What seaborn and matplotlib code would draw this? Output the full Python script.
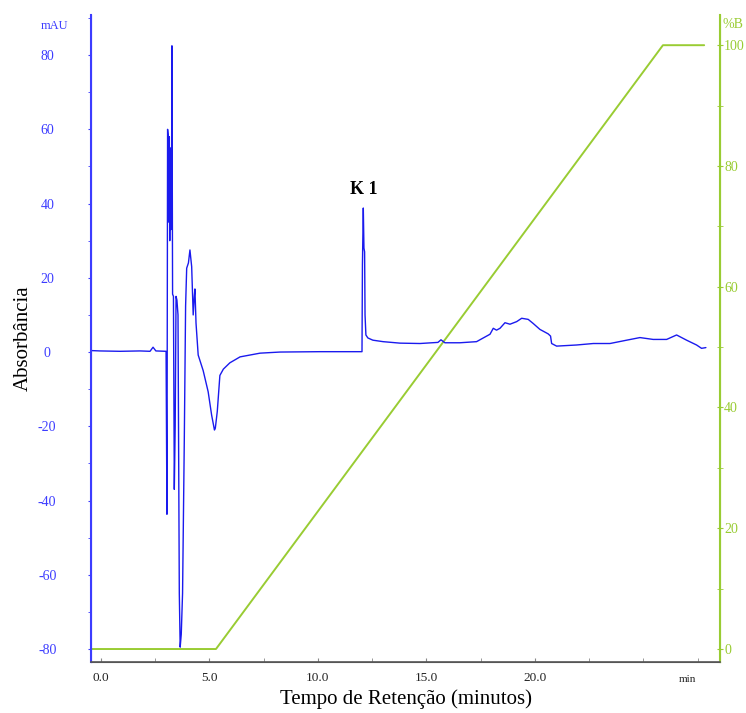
import numpy as np
import pandas as pd
import matplotlib
matplotlib.use("Agg")
import matplotlib.pyplot as plt
import seaborn as sns
from matplotlib.ticker import MultipleLocator

# ---- data ----
time_min = [-0.46, -0.05, 0.88, 1.80, 2.26, 2.40, 2.53, 3.00, 3.04, 3.07, 3.10, 3.13, 3.15, 3.17,
            3.19, 3.22, 3.25, 3.27, 3.30, 3.34, 3.38, 3.42, 3.46, 3.50, 3.55, 3.61, 3.65, 3.70,
            3.76, 3.84, 3.90, 3.95, 4.03, 4.10, 4.18, 4.25, 4.30, 4.33, 4.38, 4.48, 4.71, 4.94,
            5.10, 5.23, 5.27, 5.36, 5.48, 5.64, 5.94, 6.41, 7.33, 8.25, 10.09, 12.03, 12.05,
            12.09, 12.12, 12.15, 12.17, 12.21, 12.30, 12.53, 13.00, 13.78, 14.70, 15.53, 15.67,
            15.85, 16.54, 17.31, 17.93, 18.08, 18.23, 18.39, 18.62, 18.85, 19.16, 19.39, 19.69,
            19.92, 20.23, 20.61, 20.72, 20.77, 21.00, 21.92, 22.69, 23.46, 24.23, 24.84, 25.45,
            26.07, 26.53, 26.99, 27.45, 27.68, 27.88]
absorbance = [0.4, 0.3, 0.2, 0.3, 0.2, 1.3, 0.3, 0.2, -43.7, 60.0, 58.0, 35.0, 58.0, 30.0,
              55.0, 33.0, 40.0, 82.5, 15.6, 15.0, -37.0, -20.0, 15.0, 14.0, 10.0, -65.0, -79.5,
              -76.0, -65.0, -23.7, 12.4, 22.6, 24.0, 27.5, 23.0, 10.0, 15.0, 17.0, 7.8, -0.8,
              -5.0, -10.7, -17.0, -21.0, -20.5, -16.0, -6.3, -4.6, -2.9, -1.3, -0.3, 0.0, 0.1,
              0.1, 23.5, 38.8, 28.0, 27.0, 10.0, 4.6, 3.8, 3.2, 2.8, 2.4, 2.3, 2.6, 3.3, 2.5,
              2.5, 2.8, 4.8, 6.4, 5.9, 6.4, 7.9, 7.5, 8.2, 9.1, 8.8, 7.7, 6.1, 4.9, 4.3, 2.3,
              1.6, 1.9, 2.3, 2.3, 3.2, 3.9, 3.4, 3.4, 4.6, 3.2, 1.9, 1.0, 1.2]

grad_time = [-0.46, 5.3, 25.9, 27.8]
grad_pctB = [0, 0, 100, 100]

x_ticks = [0, 5, 10, 15, 20]
x_ticklabels = ["0.0", "5.0", "10.0", "15.0", "20.0"]
y_ticks = [-80, -60, -40, -20, 0, 20, 40, 60, 80]
b_ticks = [0, 20, 40, 60, 80, 100]

peak_label = "K 1"
peak_time = 12.09
peak_abs = 38.8

BLUE = "#1a1aee"
LBLUE = "#3c3cff"
GREEN = "#99cc33"

sns.set_style("white")
plt.rcParams["font.family"] = ["Liberation Serif", "DejaVu Serif"]
plt.rcParams["axes.unicode_minus"] = False

fig = plt.figure(figsize=(7.46, 7.13), dpi=100)
ax = fig.add_axes([91/746, 1 - 662/713, (720-91)/746, (662-15)/713])
ax2 = ax.twinx()

chrom = pd.DataFrame({"t": time_min, "mAU": absorbance})
grad = pd.DataFrame({"t": grad_time, "B": grad_pctB})

sns.lineplot(data=grad, x="t", y="B", ax=ax2, color=GREEN, lw=1.4, sort=False, estimator=None)
sns.lineplot(data=chrom, x="t", y="mAU", ax=ax, color=BLUE, lw=1.0, sort=False, estimator=None)

ax.set_zorder(ax2.get_zorder() + 1)
ax.patch.set_visible(False)

ax.set_xlim(-0.46, 28.53)
ax.set_ylim(-83.5, 90.8)
ax2.set_ylim(-2.15, 105.0)

# spines
for a in (ax, ax2):
    a.spines["top"].set_visible(False)
    a.spines["bottom"].set_color("#555555")
    a.spines["left"].set_color(LBLUE)
    a.spines["right"].set_color(GREEN)
    a.grid(False)
ax.spines["left"].set_linewidth(1.5)
ax2.spines["right"].set_linewidth(1.5)
ax.spines["bottom"].set_linewidth(1.2)

# x axis
ax.set_xticks(x_ticks)
ax.set_xticklabels(x_ticklabels)
ax.xaxis.set_minor_locator(MultipleLocator(2.5))
ax.tick_params(axis="x", which="both", direction="in", length=3, color="#888888",
               labelsize=9.5, labelcolor="#222222", pad=7, bottom=True)
ax.set_xlabel("Tempo de Retenção (minutos)", fontsize=15, labelpad=4, color="black")

# left y axis
ax.set_yticks(y_ticks)
ax.yaxis.set_minor_locator(MultipleLocator(10))
ax.tick_params(axis="y", which="both", direction="out", length=2.5, color=LBLUE,
               labelsize=10, labelcolor=LBLUE, pad=29, left=True)
for lbl in ax.get_yticklabels():
    lbl.set_horizontalalignment("center")
ax.set_ylabel("Absorbância", fontsize=15, color="black")
ax.yaxis.set_label_coords(-0.093, 0.5)

# right y axis
ax2.set_yticks(b_ticks)
ax2.yaxis.set_minor_locator(MultipleLocator(10))
ax2.tick_params(axis="y", which="both", direction="inout", length=4, color=GREEN,
                labelsize=10, labelcolor=GREEN, pad=1, right=True)
ax2.set_ylabel("")
ax2.set_xlabel("")

# unit labels
fig.text(55/746, 1 - 26/713, "mAU", color=LBLUE, fontsize=9, ha="center", va="center")
fig.text(733/746, 1 - 25/713, "%B", color=GREEN, fontsize=10, ha="center", va="center")
fig.text(687/746, 1 - 679/713, "min", color="#222222", fontsize=8, ha="center", va="center")

ax.annotate(peak_label, xy=(peak_time, peak_abs), xytext=(0, 7), textcoords="offset points",
            ha="center", va="bottom", fontsize=13, fontweight="bold", color="black")

fig.savefig("out.png", dpi=100)
